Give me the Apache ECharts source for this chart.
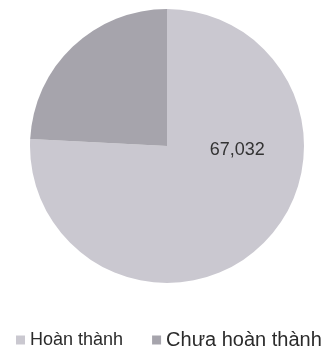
<!DOCTYPE html>
<html>
<head>
<meta charset="utf-8">
<script src="https://cdn.jsdelivr.net/npm/echarts@6/dist/echarts.min.js"></script>
<style>
  html, body { margin: 0; padding: 0; background: #fff; }
  #chart { width: 330px; height: 350px; }
</style>
</head>
<body>
<div id="chart"></div>
<script>
// dữ liệu
var categories = ['Hoàn thành', 'Chưa hoàn thành'];
var values = [67032, 21400];
var showLabel = [true, false];
var sliceColors = ['#cac8d0', '#a6a4ac'];
var legendFontSizes = [18, 20];

var myChart = echarts.init(document.getElementById('chart'));

var pieData = categories.map(function (name, i) {
  return {
    name: name,
    value: values[i],
    itemStyle: { color: sliceColors[i] },
    label: { show: showLabel[i] }
  };
});

var option = {
  backgroundColor: '#ffffff',
  animation: false,
  legend: {
    left: 16,
    top: 330,
    width: 400,
    padding: 0,
    itemWidth: 9,
    itemHeight: 9,
    itemGap: 29,
    icon: 'rect',
    data: categories.map(function (name, i) {
      return {
        name: name,
        textStyle: { fontSize: legendFontSizes[i] }
      };
    }),
    textStyle: {
      color: '#2b2b2b',
      fontFamily: 'Liberation Sans, Arial, sans-serif'
    }
  },
  series: [
    {
      type: 'pie',
      center: [167, 146],
      radius: [0, 137],
      startAngle: 90,
      clockwise: true,
      silent: true,
      label: {
        position: 'inside',
        offset: [21, -48],
        color: '#333333',
        fontSize: 18,
        fontFamily: 'Liberation Sans, Arial, sans-serif',
        formatter: function (p) {
          return p.value.toLocaleString('en-US');
        }
      },
      labelLine: { show: false },
      itemStyle: { borderWidth: 0 },
      data: pieData
    }
  ]
};

myChart.setOption(option);
</script>
</body>
</html>
